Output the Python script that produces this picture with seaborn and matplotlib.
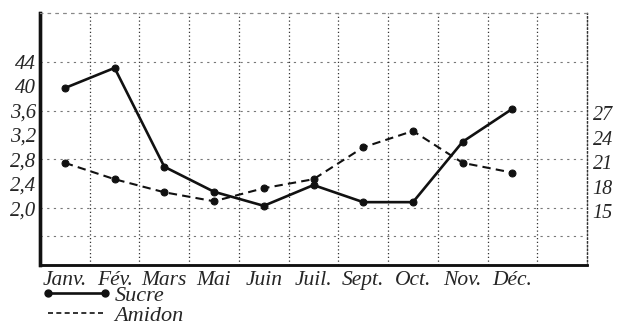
import numpy as np
import pandas as pd
import matplotlib
matplotlib.use("Agg")
import matplotlib.pyplot as plt
from matplotlib.lines import Line2D
import seaborn as sns

# Monthly values: sugar (left scale) and starch (right scale)
mois = ["Janv.", "Fév.", "Mars", "Mai", "Juin", "Juil.", "Sept.", "Oct.", "Nov.", "Déc."]
sucre = [3.97, 4.30, 2.68, 2.27, 2.04, 2.38, 2.10, 2.10, 3.09, 3.63]
amidon = [20.9, 18.9, 17.3, 16.2, 17.8, 18.9, 22.8, 24.8, 20.9, 19.7]

gauche_vals = [4.4, 4.0, 3.6, 3.2, 2.8, 2.4, 2.0]
gauche_labels = ["44", "40", "3,6", "3,2", "2,8", "2,4", "2,0"]
droite_vals = [27, 24, 21, 18, 15]
droite_labels = ["27", "24", "21", "18", "15"]
lignes_h = [4.4, 3.6, 2.8, 2.0, 1.55]

sns.set_style("white")
plt.rcParams["font.family"] = ["Liberation Serif", "DejaVu Serif"]
plt.rcParams["font.style"] = "italic"

df = pd.DataFrame({"pos": np.arange(len(mois)), "mois": mois,
                   "Sucre": sucre, "Amidon": amidon})

fig = plt.figure(figsize=(6.18, 3.28), dpi=100)
ax = fig.add_axes([40 / 618, 1 - 265 / 328, (587 - 40) / 618, (265 - 13) / 328])
ax2 = ax.twinx()

sns.lineplot(data=df, x="pos", y="Sucre", ax=ax, color="#111111", lw=1.9,
             marker="o", markersize=5, markeredgecolor="#111111", zorder=5)
sns.lineplot(data=df, x="pos", y="Amidon", ax=ax2, color="#111111", lw=1.5,
             linestyle=(0, (4, 2.5)), marker="o", markersize=5,
             markeredgecolor="#111111", zorder=5)

ax.set_xlim(-0.5, 10.5)
ax.set_ylim(1.07, 5.20)
ax2.set_ylim(8.4, 39.24)

ax.set_xticks(df["pos"])
ax.set_xticklabels(mois, fontsize=15.5)
ax.set_yticks(gauche_vals)
ax.set_yticklabels(gauche_labels, fontsize=15)
ax2.set_yticks(droite_vals)
ax2.set_yticklabels(droite_labels, fontsize=14.5)

ax.tick_params(axis="x", length=0, pad=4)
ax.tick_params(axis="y", length=0, pad=3)
ax2.tick_params(axis="y", length=0, pad=4)
ax.set_xlabel("")
ax.set_ylabel("")
ax2.set_ylabel("")

# Dotted grid: cell boundaries vertically, a few horizontal rules
ax.set_xticks(np.arange(0.5, 10.5, 1), minor=True)
ax.tick_params(which="minor", length=0)
ax.grid(False)
ax2.grid(False)
ax.grid(which="minor", axis="x", color="#333333", lw=0.9, linestyle=(0, (1, 2)))
for yv in lignes_h:
    ax.axhline(yv, color="#777777", lw=0.8, linestyle=(0, (2, 4)), zorder=0)

for a in (ax, ax2):
    a.spines["left"].set_linewidth(2.4)
    a.spines["left"].set_color("#111111")
    a.spines["bottom"].set_linewidth(1.8)
    a.spines["bottom"].set_color("#111111")
    a.spines["top"].set_linewidth(0.8)
    a.spines["top"].set_color("#888888")
    a.spines["top"].set_linestyle((0, (2, 5)))
    a.spines["right"].set_linewidth(0.9)
    a.spines["right"].set_color("#333333")
    a.spines["right"].set_linestyle((0, (1, 2)))
ax2.patch.set_visible(False)

handles = [
    Line2D([], [], color="#111111", lw=1.9, marker="o", markersize=5),
    Line2D([], [], color="#111111", lw=1.2, linestyle=(0, (3, 2))),
]
fig.legend(handles=handles, labels=["Sucre", "Amidon"], loc="upper left",
           bbox_to_anchor=(41 / 618, 1 - 285 / 328), frameon=False,
           numpoints=2, handlelength=3.2, handletextpad=0.1,
           labelspacing=0.0, fontsize=16, borderpad=0, borderaxespad=0)

fig.savefig("out.png", dpi=100)
